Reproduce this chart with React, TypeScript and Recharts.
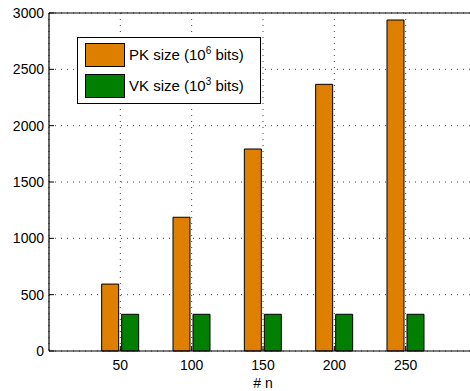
import React from "react";
import {
  BarChart,
  Bar,
  XAxis,
  YAxis,
  CartesianGrid,
  ReferenceLine,
} from "recharts";

// Number of parties n and the resulting key sizes
const nValues = [50, 100, 150, 200, 250];
const pkSize = [594, 1187, 1793, 2367, 2938]; // 10^6 bits
const vkSize = [326, 326, 326, 326, 326]; // 10^3 bits
const yTicks = [0, 500, 1000, 1500, 2000, 2500, 3000];

const series = [
  { key: "pk", label: "PK size", exp: "6", color: "#DF7F00" },
  { key: "vk", label: "VK size", exp: "3", color: "#007F00" },
];

const data = nValues.map((n, i) => ({ n, pk: pkSize[i], vk: vkSize[i] }));

const FONT = "'Liberation Sans', Arial, Helvetica, sans-serif";

// Tick labels with short inward-pointing tick marks
const XTick = (props: any) => {
  const { x, y, payload } = props;
  return (
    <g>
      <line x1={x} y1={y} x2={x} y2={y - 5} stroke="#000" strokeWidth={1} />
      <text x={x} y={y + 19} textAnchor="middle" fontSize={14} fontFamily={FONT} fill="#000">
        {payload.value}
      </text>
    </g>
  );
};

const YTick = (props: any) => {
  const { x, y, payload } = props;
  return (
    <g>
      <line x1={x} y1={y} x2={x + 5} y2={y} stroke="#000" strokeWidth={1} />
      <text x={x - 5} y={y + 5} textAnchor="end" fontSize={14} fontFamily={FONT} fill="#000">
        {payload.value}
      </text>
    </g>
  );
};

const LegendBox = () => (
  <div
    style={{
      position: "absolute",
      left: 77,
      top: 37,
      border: "1.5px solid #000",
      background: "#fff",
      width: 175,
      height: 64,
      padding: "1px 0 0 7px",
      boxSizing: "content-box",
    }}
  >
    {series.map((s) => (
      <div key={s.key} style={{ display: "flex", alignItems: "center", height: 31 }}>
        <div
          style={{
            width: 38,
            height: 22,
            background: s.color,
            border: "1px solid #000",
            marginRight: 4,
          }}
        />
        <span style={{ fontSize: 15, fontFamily: FONT, color: "#000", whiteSpace: "nowrap" }}>
          {s.label} (10
          <sup style={{ fontSize: 10, verticalAlign: "6px", lineHeight: 0 }}>{s.exp}</sup> bits)
        </span>
      </div>
    ))}
  </div>
);

export default function App() {
  return (
    <div
      style={{
        position: "fixed",
        top: 0,
        left: 0,
        width: 470,
        height: 391,
        overflow: "hidden",
        background: "#fff",
      }}
    >
      <BarChart
        width={480}
        height={391}
        data={data}
        margin={{ top: 13, right: 3, left: 0, bottom: 0 }}
        barSize={17}
        barGap={3}
      >
        <CartesianGrid stroke="#444" strokeDasharray="1 5" />
        <XAxis
          dataKey="n"
          type="category"
          height={40}
          padding={{ left: 35.67, right: 35.67 }}
          axisLine={{ stroke: "#000", strokeWidth: 1.2 }}
          tickLine={false}
          tickSize={0}
          tickMargin={0}
          tick={<XTick />}
          interval={0}
          label={{
            value: "# n",
            position: "insideBottom",
            offset: 3,
            fontSize: 14,
            fontFamily: FONT,
            fill: "#000",
          }}
        />
        <YAxis
          type="number"
          width={49}
          domain={[0, 3000]}
          ticks={yTicks}
          interval={0}
          axisLine={{ stroke: "#000", strokeWidth: 1.2 }}
          tickLine={false}
          tickSize={0}
          tickMargin={0}
          tick={<YTick />}
        />
        <ReferenceLine y={3000} stroke="#000" strokeWidth={1.2} />
        {series.map((s) => (
          <Bar
            key={s.key}
            dataKey={s.key}
            fill={s.color}
            stroke="#000"
            strokeWidth={1}
            isAnimationActive={false}
          />
        ))}
      </BarChart>
      <LegendBox />
    </div>
  );
}
